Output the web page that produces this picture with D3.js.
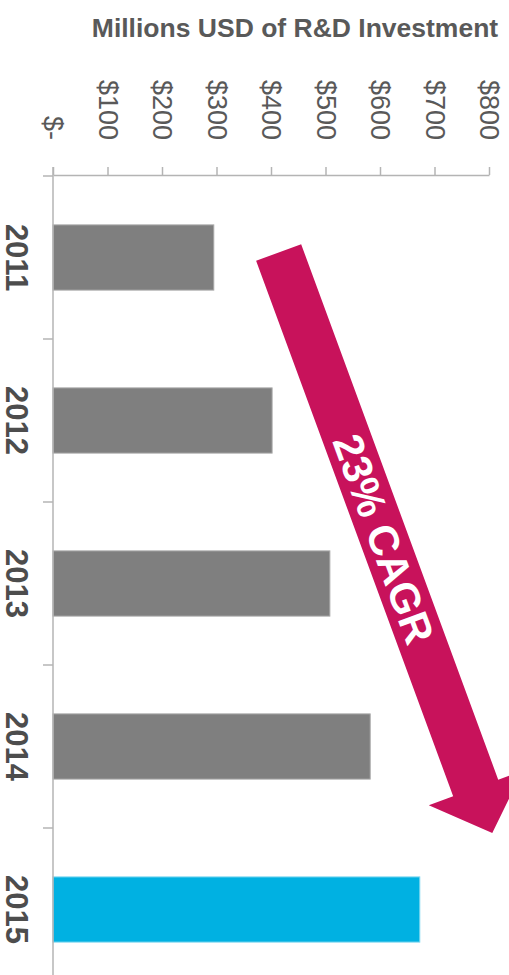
<!DOCTYPE html>
<html>
<head>
<meta charset="utf-8">
<script src="https://cdn.jsdelivr.net/npm/d3@7/dist/d3.min.js"></script>
<style>
  body { margin: 0; background: #fff; }
  svg { display: block; font-family: "Liberation Sans", Arial, sans-serif; }
</style>
</head>
<body>
<svg id="chart" width="509" height="975"></svg>
<script>
// chart data
const years = ["2011", "2012", "2013", "2014", "2015"];
const investment = [295, 402, 508, 582, 673];   // millions USD
const barColors = ["#7f7f7f", "#7f7f7f", "#7f7f7f", "#7f7f7f", "#00b1e2"];
const tickValues = [0, 100, 200, 300, 400, 500, 600, 700, 800];
const tickLabels = ["$-", "$100", "$200", "$300", "$400", "$500", "$600", "$700", "$800"];
const titleText = "Millions USD of R&D Investment";
const cagrText = "23% CAGR";

const svg = d3.select("#chart");
const axisColor = "#b4b4b4";

// scales (chart is a column chart turned on its side)
const x = d3.scaleLinear().domain([0, 800]).range([53, 489]);
const y = d3.scaleBand().domain(years).range([176, 991])
    .paddingInner(0.6).paddingOuter(0.3);

// title
svg.append("text")
    .attr("x", 295)
    .attr("y", 37)
    .attr("text-anchor", "middle")
    .attr("font-size", 26.5)
    .attr("font-weight", "bold")
    .attr("fill", "#595959")
    .text(titleText);

// value axis along the top
const valueAxis = svg.append("g")
    .attr("transform", "translate(0,175)")
    .call(d3.axisTop(x).tickValues(tickValues).tickSize(8).tickSizeOuter(0)
        .tickFormat((d, i) => tickLabels[i]));
valueAxis.select(".domain").attr("stroke", axisColor).attr("stroke-width", 1.5);
valueAxis.selectAll(".tick line").attr("stroke", axisColor).attr("stroke-width", 1.5);
valueAxis.selectAll(".tick text")
    .attr("font-size", 27)
    .attr("fill", "#595959")
    .attr("font-family", "'Liberation Sans', Arial, sans-serif")
    .attr("text-anchor", "end")
    .attr("x", 0)
    .attr("y", 0)
    .attr("dy", "0.35em")
    .attr("transform", "translate(0,-35) rotate(90)");

// bars
svg.selectAll(".bar")
    .data(years)
    .enter().append("rect")
    .attr("class", "bar")
    .attr("x", x(0))
    .attr("y", d => y(d))
    .attr("width", (d, i) => x(investment[i]) - x(0))
    .attr("height", y.bandwidth())
    .attr("fill", (d, i) => barColors[i])
    .attr("stroke", (d, i) => i === 4 ? "#7fd8f0" : "#a8a8a8")
    .attr("stroke-width", 1);

// category axis on the left, ticks between the categories
const catAxis = svg.append("g");
catAxis.append("line")
    .attr("x1", x(0)).attr("x2", x(0))
    .attr("y1", 167).attr("y2", 975)
    .attr("stroke", axisColor).attr("stroke-width", 1.5);
const edges = years.map(d => y(d) - y.step() * y.paddingInner() / 2);
catAxis.selectAll(".cat-tick")
    .data(edges)
    .enter().append("line")
    .attr("class", "cat-tick")
    .attr("x1", x(0) - 10).attr("x2", x(0))
    .attr("y1", d => d).attr("y2", d => d)
    .attr("stroke", axisColor).attr("stroke-width", 1.5);
catAxis.selectAll(".cat-label")
    .data(years)
    .enter().append("text")
    .attr("class", "cat-label")
    .attr("transform", d => "translate(17," + (y(d) + y.bandwidth() / 2) + ") rotate(90)")
    .attr("text-anchor", "middle")
    .attr("dy", "0.36em")
    .attr("font-size", 31)
    .attr("font-weight", "bold")
    .attr("fill", "#4d4d4d")
    .text(d => d);

// growth arrow
const start = [x(414), y(years[0]) + y.bandwidth() / 2 - 5];
const tip = [x(806), y(years[4]) - y.step() * y.paddingOuter() + 5];
const dx = tip[0] - start[0], dy = tip[1] - start[1];
const len = Math.sqrt(dx * dx + dy * dy);
const angle = Math.atan2(dy, dx) * 180 / Math.PI;
const shaftHalf = 24, headHalf = 50, headLen = 48;

const arrow = svg.append("g")
    .attr("transform", "translate(" + start[0] + "," + start[1] + ") rotate(" + angle + ")");
arrow.append("path")
    .attr("d", d3.line()([
        [0, -shaftHalf], [len - headLen, -shaftHalf], [len - headLen, -headHalf],
        [len, 0],
        [len - headLen, headHalf], [len - headLen, shaftHalf], [0, shaftHalf]
    ]) + "Z")
    .attr("fill", "#c8125b");
arrow.append("text")
    .attr("x", 305)
    .attr("y", 0)
    .attr("dy", "0.36em")
    .attr("text-anchor", "middle")
    .attr("font-size", 42)
    .attr("font-weight", "bold")
    .attr("fill", "#fff")
    .text(cagrText);
</script>
</body>
</html>
